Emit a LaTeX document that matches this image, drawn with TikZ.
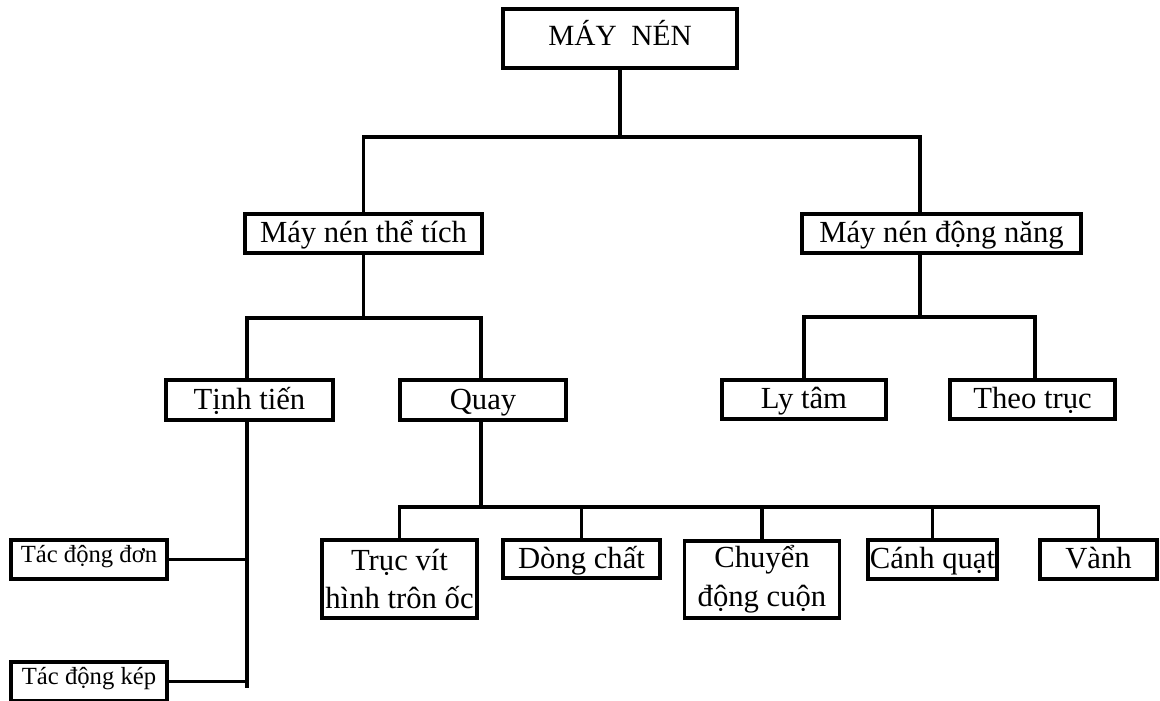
\documentclass[tikz,border=0pt]{standalone}
\usepackage{fontspec}
\setmainfont{Liberation Serif}
\tikzset{
  boxsize/.style 2 args={minimum width=#1*0.75pt, minimum height=#2*0.75pt},
  basebox/.style={draw, line width=2.3pt, inner sep=0pt, align=center, font=\fontsize{23}{29}\selectfont},
  box/.style={basebox, text height=17pt, text depth=2.8pt},
  smallbox/.style={box, font=\fontsize{18.5}{22}\selectfont, text height=13pt, text depth=7.8pt},
  link/.style={line width=2.4pt}
}
\begin{document}
\begin{tikzpicture}[x=0.75pt, y=-0.75pt]
            % Frame to fix the page
            \useasboundingbox (0,0) rectangle (1160,700);
            % Top levels
            \node[box, boxsize={234}{59}, font=\fontsize{22}{28}\selectfont, text height=16pt, text depth=6pt] (root) at ( 620.0, 38.5) {MÁY\ \ NÉN};
            \node[box, boxsize={237}{39}] (vol)  at ( 363.5,233.5) {Máy nén thể tích};
            \node[box, boxsize={279}{39}] (dyn)  at ( 941.5,233.5) {Máy nén động năng};
            \node[box, boxsize={167}{40}] (tinh) at ( 249.5,400.0) {Tịnh tiến};
            \node[box, boxsize={166}{40}] (quay) at ( 483.0,400.0) {Quay};
            \node[box, boxsize={164}{39}] (ly)   at ( 804.0,399.5) {Ly tâm};
            \node[box, boxsize={165}{39}] (theo) at (1032.5,399.5) {Theo trục};
            % Bottom level
            \node[smallbox, boxsize={156}{39}] (don) at (  89.0,559.5) {Tác động đơn};
            \node[smallbox, boxsize={156}{39}] (kep) at (  89.0,681.5) {Tác động kép};
            \node[basebox, boxsize={155}{78}] (vit)  at ( 399.5,579.0) {Trục vít\\hình trôn ốc};
            \node[box, boxsize={157}{38}] (dong) at ( 581.5,559.0) {Dòng chất};
            \node[basebox, boxsize={155}{77}] (cuon) at ( 762.0,579.5) {Chuyển\\động cuộn};
            \node[box, boxsize={129}{39}] (canh) at ( 932.5,559.5) {Cánh quạt};
            \node[box, boxsize={117}{39}] (vanh) at (1098.5,559.5) {Vành};
            % Branch points
            \coordinate (br)   at ( 920,137);
            \coordinate (vl)   at ( 247,318);
            \coordinate (vr)   at ( 481,318);
            \coordinate (dl)   at ( 803,317);
            \coordinate (dr)   at (1035,317);
            \coordinate (ql)   at ( 401,507);
            \coordinate (tend) at ( 247,688);
            % Links
            \draw[link] (root.south) -- (root.south |- br);
            \draw[link] (vol.north) |- (br) -- (br |- dyn.north);
            \draw[link] (vol.south) -- (vol.south |- vl);
            \draw[link] (vl |- tinh.north) |- (vr) -- (vr |- quay.north);
            \draw[link] (br |- dyn.south) -- (br |- dl);
            \draw[link] (ly.north) |- (dr) -- (dr |- theo.north);
            \draw[link] (vr |- quay.south) -- (vr |- ql);
            \draw[link] (vit.north) |- (vanh.north |- ql) -- (vanh.north);
            \foreach \n in {dong,cuon,canh}
                \draw[link] (\n.north) -- (\n.north |- ql);
            \draw[link] (vl |- tinh.south) -- (tend);
            \draw[link] (don.east) -- (don.east -| tend);
            \draw[link] (kep.east) -- (kep.east -| tend);
        \end{tikzpicture}
\end{document}
